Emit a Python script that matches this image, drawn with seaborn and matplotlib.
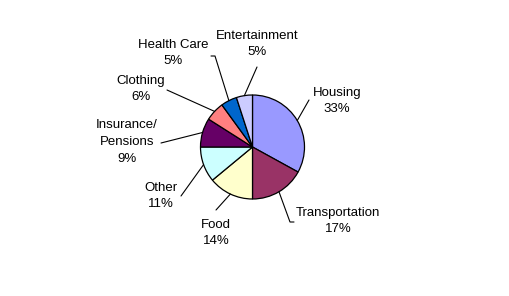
import numpy as np
import matplotlib
matplotlib.use("Agg")
import matplotlib.pyplot as plt
import seaborn as sns

sns.set_theme(style="white")
plt.rcParams['font.family'] = ['Liberation Sans', 'DejaVu Sans']

categories = ["Housing", "Transportation", "Food", "Other", "Insurance/\nPensions",
              "Clothing", "Health Care", "Entertainment"]
values = [33, 17, 14, 11, 9, 6, 5, 5]
colors = ["#9999FF", "#993366", "#FFFFCC", "#CCFFFF", "#660066",
          "#FF8080", "#0066CC", "#CCCCFF"]

W, H = 509, 296


def P(x, y):
    # pixel (y down) -> data (y up)
    return (x, H - y)


# layout (pixel coords, y down)
center = P(252.5, 147)
radius = 52
label_pos = [(337, 101), (338, 221), (216, 233), (161, 196), (127, 142),
             (141, 89), (173, 53), (257, 44)]
line_ends = [[(309, 100)], [(290, 222), (294, 222)], [(216, 210)], [(181, 196)],
             [(161, 143)], [(167, 90)], [(215, 56), (211, 56)], [(257, 67)]]

fig = plt.figure(figsize=(5.09, 2.96), dpi=100)
ax = fig.add_axes([0, 0, 1, 1])

wedges, _ = ax.pie(values, colors=colors, startangle=90, counterclock=False,
                   center=center, radius=radius, frame=True,
                   wedgeprops=dict(edgecolor="black", linewidth=0.9))
ax.set_xlim(0, W)
ax.set_ylim(0, H)
ax.set_aspect("auto")
ax.axis("off")

total = sum(values)
cum = 0
for i, v in enumerate(values):
    mid = 90 - 360 * (cum + v / 2) / total
    cum += v
    ex = center[0] + radius * np.cos(np.radians(mid))
    ey = center[1] + radius * np.sin(np.radians(mid))
    pts = [(ex, ey)] + [P(*p) for p in line_ends[i]]
    ax.plot([p[0] for p in pts], [p[1] for p in pts], color="black", lw=0.8)
    lx, ly = P(*label_pos[i])
    ax.text(lx, ly, f"{categories[i]}\n{v}%",
            ha="center", va="center", fontsize=9.5, linespacing=1.5, color="black")

fig.savefig("out.png", dpi=100, facecolor="white")
